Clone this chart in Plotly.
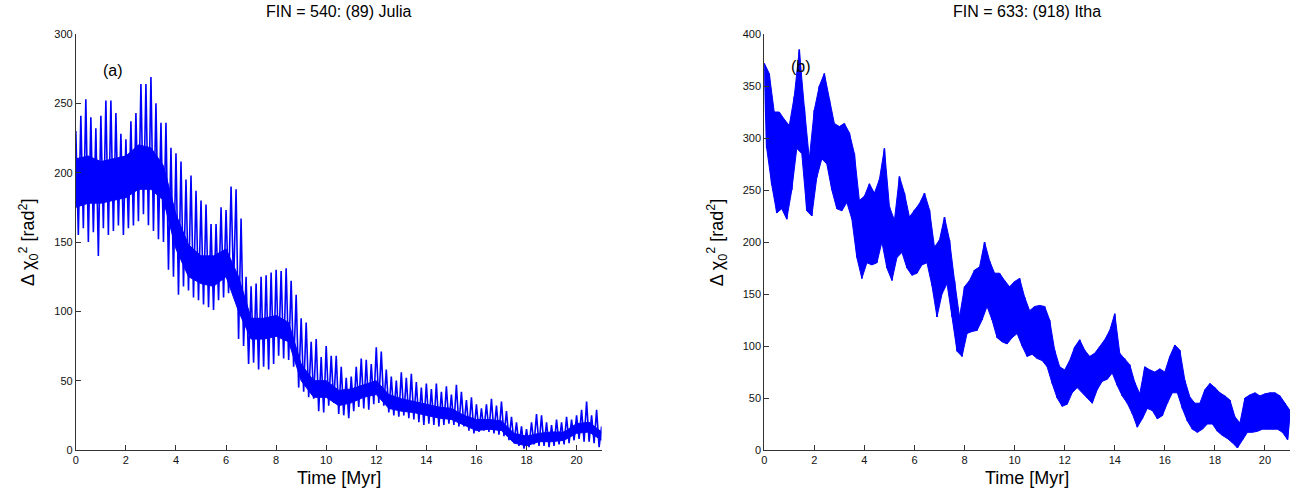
import numpy as np
import plotly.graph_objects as go

# ---------------- data ----------------
# Panel (a): FIN = 540, (89) Julia
# spike maxima at t = 0.0, 0.2, ..., 21.0 Myr
julia_peaks = [230, 241, 253, 240, 232, 241, 252, 252, 243, 228,
               224, 237, 243, 264, 264, 269, 250, 236, 236, 218,
               214, 208, 195, 198, 187, 180, 177, 163, 163, 175,
               173, 190, 188, 167, 125, 118, 120, 125, 126, 128,
               130, 129, 131, 122, 112, 95, 92, 78, 80, 67,
               75, 68, 68, 60, 52, 53, 60, 66, 65, 62,
               74, 71, 58, 53, 50, 56, 52, 55, 49, 45,
               48, 44, 48, 42, 46, 40, 47, 42, 36, 38,
               33, 30, 33, 37, 32, 35, 28, 24, 20, 17,
               15, 20, 26, 25, 20, 18, 22, 20, 24, 22,
               25, 29, 35, 25, 29, 17]
# spike minima at t = 0.1, 0.3, ..., 20.9 Myr
julia_troughs = [155, 160, 150, 157, 140, 160, 155, 158, 162, 155,
                 160, 162, 165, 170, 162, 158, 152, 150, 130, 125,
                 112, 118, 115, 110, 108, 105, 103, 101, 108, 110,
                 113, 118, 80, 75, 62, 63, 58, 60, 58, 62,
                 68, 66, 65, 60, 45, 42, 38, 37, 28, 27,
                 32, 34, 26, 25, 23, 28, 31, 30, 29, 33,
                 34, 32, 27, 25, 24, 25, 23, 22, 20, 18,
                 19, 18, 17, 18, 19, 18, 17, 17, 14, 12,
                 13, 14, 13, 12, 11, 10, 7, 5, 3, 1,
                 2, 4, 3, 3, 2, 3, 4, 4, 5, 7,
                 8, 6, 6, 5, 2]
# dense core band of panel (a), at t = 0.0, 0.5, ..., 21.0 Myr
julia_core_low = [175, 178, 178, 180, 182, 188, 188, 180, 145, 125,
                  120, 118, 125, 100, 80, 80, 82, 78, 50, 38,
                  38, 32, 34, 38, 40, 30, 28, 27, 25, 23,
                  22, 18, 14, 15, 14, 5, 3, 6, 6, 7,
                  12, 13, 7]
julia_core_high = [210, 212, 208, 210, 212, 220, 218, 205, 170, 148,
                   140, 140, 145, 125, 95, 95, 97, 92, 62, 50,
                   50, 43, 44, 47, 50, 40, 37, 35, 33, 31,
                   30, 25, 22, 22, 21, 12, 10, 12, 13, 13,
                   19, 20, 13]

# Panel (b): FIN = 633, (918) Itha
# band upper edge at t = 0.0, 0.2, ..., 21.0 Myr
itha_upper = [372, 362, 325, 325, 318, 312, 340, 385, 330, 280,
              327, 350, 362, 337, 314, 311, 314, 305, 285, 240,
              244, 256, 247, 260, 290, 234, 221, 263, 247, 224,
              231, 237, 247, 231, 195, 202, 224, 202, 163, 128,
              157, 163, 173, 176, 200, 182, 170, 170, 163, 157,
              162, 165, 147, 134, 138, 139, 138, 125, 96, 80,
              77, 86, 99, 106, 96, 90, 93, 99, 106, 115,
              131, 93, 88, 82, 65, 54, 80, 77, 75, 78,
              75, 90, 101, 96, 67, 51, 45, 45, 58, 64,
              60, 55, 52, 48, 32, 26, 50, 53, 55, 52,
              54, 55, 55, 52, 45, 38]
# band lower edge at t = 0.1, 0.3, ..., 20.9 Myr
itha_lower = [290, 255, 228, 232, 222, 250, 290, 285, 230, 225,
              262, 280, 275, 250, 232, 230, 238, 222, 185, 165,
              180, 178, 180, 200, 175, 163, 185, 190, 175, 168,
              170, 178, 180, 158, 128, 150, 160, 128, 95, 90,
              112, 114, 115, 125, 138, 125, 108, 104, 102, 108,
              112, 100, 90, 92, 88, 86, 80, 64, 50, 42,
              44, 55, 60, 56, 50, 45, 58, 66, 68, 74,
              62, 52, 45, 35, 22, 30, 40, 38, 30, 33,
              45, 55, 55, 40, 28, 20, 17, 20, 25, 25,
              18, 14, 11, 7, 2, 10, 17, 17, 18, 20,
              20, 20, 20, 17, 10]

titles = ["FIN = 540: (89) Julia", "FIN = 633: (918) Itha"]
panel_labels = ["(a)", "(b)"]
x_ticks = [0, 2, 4, 6, 8, 10, 12, 14, 16, 18, 20]
y_ticks_a = [0, 50, 100, 150, 200, 250, 300]
y_ticks_b = [0, 50, 100, 150, 200, 250, 300, 350, 400]


def interleave(hi, lo):
    vals = []
    for i, h in enumerate(hi):
        vals.append(h)
        if i < len(lo):
            vals.append(lo[i])
    return vals


series_a = interleave(julia_peaks, julia_troughs)
series_b = interleave(itha_upper, itha_lower)
t_a = np.round(np.arange(len(series_a)) * 0.1, 2)
t_b = np.round(np.arange(len(series_b)) * 0.1, 2)
t_core = np.round(np.arange(len(julia_core_low)) * 0.5, 2)
t_up_b = np.round(np.arange(len(itha_upper)) * 0.2, 2)
t_lo_b = np.round(np.arange(len(itha_lower)) * 0.2 + 0.1, 2)

BLUE = "#0000ff"
W, H = 1295, 493
fig = go.Figure()

# core band (a)
fig.add_trace(go.Scatter(x=t_core, y=julia_core_low, mode="lines",
                         line=dict(color=BLUE, width=1), xaxis="x", yaxis="y",
                         showlegend=False, hoverinfo="skip"))
fig.add_trace(go.Scatter(x=t_core, y=julia_core_high, mode="lines",
                         line=dict(color=BLUE, width=1), fill="tonexty",
                         fillcolor=BLUE, xaxis="x", yaxis="y", showlegend=False,
                         hoverinfo="skip"))
fig.add_trace(go.Scatter(x=t_a, y=series_a, mode="lines",
                         line=dict(color=BLUE, width=1.6), xaxis="x", yaxis="y",
                         showlegend=False))

# band (b): filled region between the edges, plus the zigzag trace
band_x = list(t_up_b) + list(t_lo_b[::-1])
band_y = list(itha_upper) + list(itha_lower[::-1])
fig.add_trace(go.Scatter(x=band_x, y=band_y, mode="lines", fill="toself",
                         fillcolor=BLUE, line=dict(color=BLUE, width=1),
                         xaxis="x2", yaxis="y2", showlegend=False, hoverinfo="skip"))
fig.add_trace(go.Scatter(x=t_b, y=series_b, mode="lines",
                         line=dict(color=BLUE, width=1.6), xaxis="x2", yaxis="y2",
                         showlegend=False))

axis_common = dict(showgrid=False, zeroline=False, showline=True, linecolor="#333",
                   linewidth=1, ticks="inside", ticklen=5, tickcolor="#333",
                   mirror=False, tickfont=dict(family="Liberation Sans, Arial", size=11, color="#111"))

dom_a = [73 / W, 600 / W]
dom_b = [763 / W, 1290 / W]
fig.update_layout(
    width=W, height=H,
    margin=dict(l=0, r=0, t=34, b=43),
    plot_bgcolor="white", paper_bgcolor="white",
    xaxis=dict(domain=dom_a, range=[0, 21], tickvals=x_ticks, anchor="y", **axis_common),
    yaxis=dict(domain=[0, 1], range=[0, 300], tickvals=y_ticks_a, anchor="x", **axis_common),
    xaxis2=dict(domain=dom_b, range=[0, 21], tickvals=x_ticks, anchor="y2", **axis_common),
    yaxis2=dict(domain=[0, 1], range=[0, 400], tickvals=y_ticks_b, anchor="x2", **axis_common),
)

font_big = dict(family="Liberation Sans, Arial", size=18, color="black")
font_title = dict(family="Liberation Sans, Arial", size=16, color="black")
ann = []
plot_h = H - 34 - 43
for i, dom in enumerate([dom_a, dom_b]):
    cx = (dom[0] + dom[1]) / 2
    ann.append(dict(text=titles[i], xref="paper", yref="paper", x=cx, y=1 + 22 / plot_h,
                    showarrow=False, font=font_title, xanchor="center", yanchor="middle"))
    ann.append(dict(text="Time [Myr]", xref="paper", yref="paper", x=cx, y=-28 / plot_h,
                    showarrow=False, font=font_big, xanchor="center", yanchor="middle"))
    ylab_x = (25 if i == 0 else 715) / W
    ann.append(dict(text="Δ χ<sub>0</sub><sup>2</sup> [rad<sup>2</sup>]", xref="paper",
                    yref="paper", x=ylab_x, y=0.5, textangle=-90, showarrow=False,
                    font=font_big, xanchor="center", yanchor="middle"))
ann.append(dict(text=panel_labels[0], xref="x", yref="y", x=1.47, y=274, showarrow=False,
                font=font_title))
ann.append(dict(text=panel_labels[1], xref="x2", yref="y2", x=1.47, y=369, showarrow=False,
                font=font_title))
fig.update_layout(annotations=ann)

fig.write_html("out.html", config={"displayModeBar": False})

# remove the default page margin so the figure sits at the window's corner
with open("out.html", "r", encoding="utf-8") as f:
    html = f.read()
html = html.replace("<body>", '<body style="margin:0;overflow:hidden">', 1)
with open("out.html", "w", encoding="utf-8") as f:
    f.write(html)
